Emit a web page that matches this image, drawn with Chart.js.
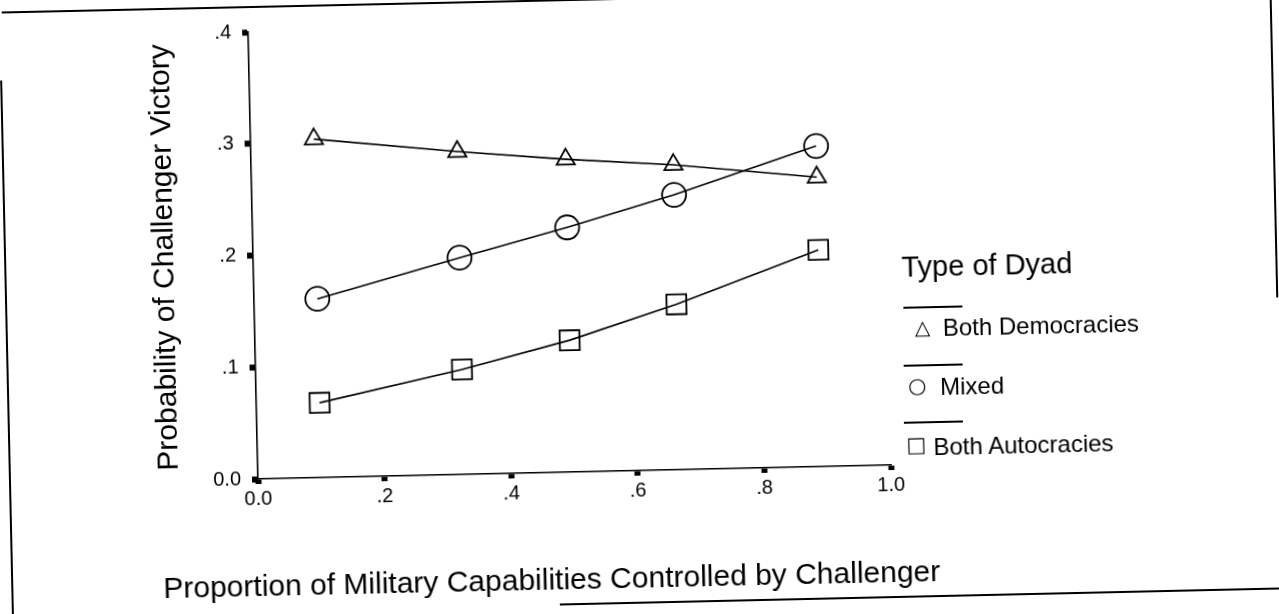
<!DOCTYPE html>
<html>
<head>
<meta charset="utf-8">
<script src="https://cdn.jsdelivr.net/npm/chart.js@4.4.1/dist/chart.umd.min.js"></script>
<style>
  html, body { margin: 0; padding: 0; background: #fff; overflow: hidden; }
  #page {
    position: absolute; left: 0; top: 0; width: 1279px; height: 614px;
    transform-origin: 258px 479px; transform: rotate(-1.26deg);
    font-family: "Liberation Sans", Arial, sans-serif; color: #000;
  }
  #chart { position: absolute; left: 0; top: 0; }
  .rule { position: absolute; background: #000; }
  .txt { position: absolute; white-space: nowrap; line-height: 1; }
  .sym { position: absolute; line-height: 1; font-family: "DejaVu Sans", sans-serif; }
</style>
</head>
<body>
<div id="page">
  <canvas id="chart" width="1279" height="614"></canvas>

  <!-- scanned page frame -->
  <div class="rule" style="left:12px; top:6px; width:1100px; height:1.5px;"></div>
  <div class="rule" style="left:9px; top:75px; width:1.5px; height:560px;"></div>
  <div class="rule" style="left:1280px; top:-20px; width:1.5px; height:340px;"></div>
  <div class="rule" style="left:557px; top:610px; width:760px; height:1.5px;"></div>

  <div class="txt" id="xTitle" style="left:161px; top:571px; font-size:30px;"></div>

  <!-- legend -->
  <div class="txt" id="legendTitle" style="left:906px; top:267px; font-size:29px;"></div>
  <div class="rule" style="left:907px; top:321px; width:59px; height:1.5px;"></div>
  <div class="sym" style="left:918px; top:332px; font-size:20px;">△</div>
  <div class="txt" id="leg0" style="left:946px; top:331px; font-size:24px;"></div>
  <div class="rule" style="left:906px; top:379px; width:59px; height:1.5px;"></div>
  <div class="sym" style="left:910px; top:390px; font-size:21px;">○</div>
  <div class="txt" id="leg1" style="left:942px; top:390px; font-size:24px;"></div>
  <div class="rule" style="left:905px; top:436px; width:59px; height:1.5px;"></div>
  <div class="sym" style="left:907px; top:449px; font-size:21px;">□</div>
  <div class="txt" id="leg2" style="left:934px; top:450px; font-size:24px;"></div>
</div>

<script>
// proportion of capabilities at which predictions were plotted
const xValues = [0.10, 0.326, 0.497, 0.667, 0.893];

// predicted probability of challenger victory, by dyad type
const democracies = [0.303, 0.289, 0.280, 0.273, 0.259];
const mixed = [0.160, 0.194, 0.219, 0.246, 0.287];
const autocracies = [0.067, 0.094, 0.118, 0.148, 0.194];

const seriesNames = ["Both Democracies", "Mixed", "Both Autocracies"];
const seriesShapes = ["triangle", "circle", "rect"];
const seriesRadius = [10.5, 12, 14];

const xTickLabels = ["0.0", ".2", ".4", ".6", ".8", "1.0"];
const yTickLabels = ["0.0", ".1", ".2", ".3", ".4"];

const xTitle = "Proportion of Military Capabilities Controlled by Challenger";
const yTitle = "Probability of Challenger Victory";
const legendTitle = "Type of Dyad";

const FONT = "'Liberation Sans', Arial, sans-serif";

function toPoints(ys) {
  return xValues.map((x, i) => ({ x, y: ys[i] }));
}

document.getElementById("xTitle").textContent = xTitle;
document.getElementById("legendTitle").textContent = legendTitle;
seriesNames.forEach((n, i) => {
  document.getElementById("leg" + i).textContent = n;
});

const datasets = [democracies, mixed, autocracies].map((ys, i) => ({
  label: seriesNames[i],
  data: toPoints(ys),
  showLine: true,
  tension: 0,
  borderColor: "#000",
  borderWidth: 1.6,
  backgroundColor: "rgba(0,0,0,0)",
  pointStyle: seriesShapes[i],
  pointRadius: seriesRadius[i],
  pointBorderWidth: 1.8,
  pointBorderColor: "#000",
  pointBackgroundColor: "rgba(0,0,0,0)"
}));

new Chart(document.getElementById("chart"), {
  type: "scatter",
  data: { datasets },
  options: {
    responsive: false,
    animation: false,
    devicePixelRatio: 1,
    layout: { padding: { left: 0, right: 388, top: 32, bottom: 0 } },
    plugins: { legend: { display: false }, tooltip: { enabled: false } },
    scales: {
      x: {
        type: "linear",
        min: 0,
        max: 1,
        afterFit: s => { s.height = 135; },
        ticks: {
          stepSize: 0.2,
          color: "#000",
          padding: 3,
          font: { family: FONT, size: 20 },
          callback: v => xTickLabels[Math.round(v * 5)]
        },
        grid: { drawOnChartArea: false, tickLength: 5, tickWidth: 6, tickColor: "#000" },
        border: { color: "#000", width: 1.6 }
      },
      y: {
        type: "linear",
        min: 0,
        max: 0.4,
        afterFit: s => { s.width = 258; },
        ticks: {
          stepSize: 0.1,
          color: "#000",
          padding: 11,
          font: { family: FONT, size: 20 },
          callback: v => yTickLabels[Math.round(v * 10)]
        },
        grid: { drawOnChartArea: false, tickLength: 6, tickWidth: 6, tickColor: "#000" },
        border: { color: "#000", width: 1.6 },
        title: {
          display: true,
          text: yTitle,
          color: "#000",
          font: { family: FONT, size: 30, weight: "normal" },
          padding: { top: 152, bottom: 0 }
        }
      }
    }
  }
});
</script>
</body>
</html>
